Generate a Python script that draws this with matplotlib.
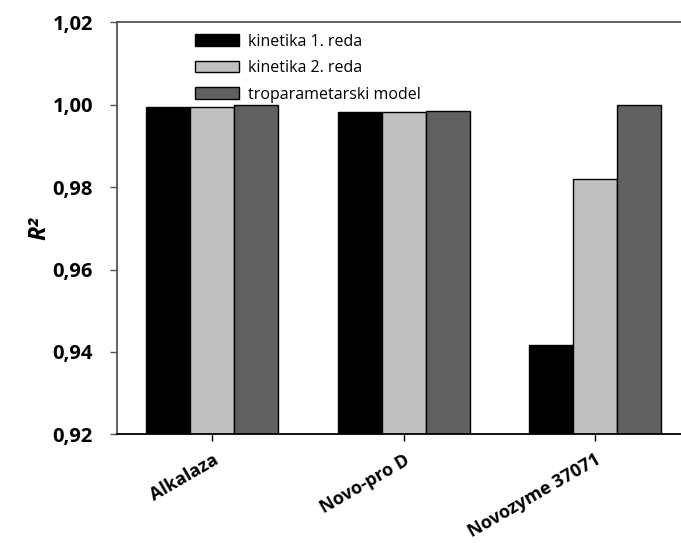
import numpy as np
import matplotlib
matplotlib.use('Agg')
import matplotlib.pyplot as plt

plt.rcParams['font.family'] = ['Open Sans', 'DejaVu Sans']

# Podaci očitani sa grafika
enzimi = ['Alkalaza', 'Novo-pro D', 'Novozyme 37071']
kinetika_1 = [0.9994, 0.9982, 0.9417]
kinetika_2 = [0.9994, 0.9982, 0.9820]
troparam = [0.9999, 0.9984, 1.0000]
serije = ['kinetika 1. reda', 'kinetika 2. reda', 'troparametarski model']
y_ticks = [0.92, 0.94, 0.96, 0.98, 1.00, 1.02]

boje = ['#000000', '#c0c0c0', '#606060']

fig = plt.figure(figsize=(6.81, 5.43), dpi=100)
# osa se produžava preko desne ivice (originalna slika je isječena)
ax = fig.add_axes([0.1712, 0.2002, 0.843, 0.7587])

x = np.arange(len(enzimi))
w = 0.23
for i, (vals, lab, c) in enumerate(zip([kinetika_1, kinetika_2, troparam], serije, boje)):
    ax.bar(x + (i - 1) * w, vals, width=w, color=c, edgecolor='black',
           linewidth=1.0, label=lab)

ax.set_xlim(-0.5, 2.5)
ax.set_ylim(0.92, 1.02)
ax.set_yticks(y_ticks)
ax.set_yticklabels([f'{v:.2f}'.replace('.', ',') for v in y_ticks],
                   fontsize=14.5, fontweight='bold')
ax.set_xticks(x)
ax.set_xticklabels(enzimi, fontsize=13, fontweight='bold', rotation=30,
                   ha='right', va='top', rotation_mode='anchor')

ax.set_ylabel('R²', fontsize=17, fontweight='bold', fontstyle='italic', labelpad=1)

for s in ['left', 'top']:
    ax.spines[s].set_color('#555555')
    ax.spines[s].set_linewidth(1.3)
ax.spines['bottom'].set_linewidth(1.3)
ax.spines['right'].set_visible(False)
ax.tick_params(axis='y', direction='out', length=5, width=1, color='#555555', pad=12)
ax.tick_params(axis='x', direction='out', length=5, width=1, pad=7)

leg = ax.legend(loc='upper left', bbox_to_anchor=(0.286, 0.938),
                bbox_transform=fig.transFigure, frameon=False, fontsize=11.5,
                handlelength=2.8, handleheight=0.75, handletextpad=0.55,
                labelspacing=0.66, borderpad=0.0, borderaxespad=0.0)

plt.savefig('out.png', dpi=100, facecolor='white')
